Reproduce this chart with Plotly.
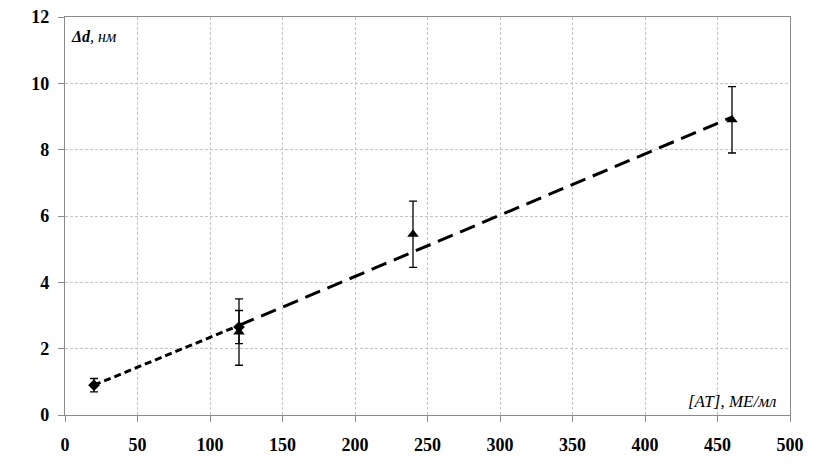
import plotly.graph_objects as go

# Data
diam_x = [20, 120]
diam_y = [0.9, 2.65]
diam_err = [0.2, 0.5]

tri_x = [120, 240, 460]
tri_y = [2.5, 5.45, 8.9]
tri_err = [1.0, 1.0, 1.0]

fit1_x = [20, 120]
fit1_y = [0.9, 2.7]

fit2_x = [120, 460]
fit2_y = [2.7, 8.98]

x_ticks = [0, 50, 100, 150, 200, 250, 300, 350, 400, 450, 500]
y_ticks = [0, 2, 4, 6, 8, 10, 12]

fig = go.Figure()

fig.add_trace(go.Scatter(x=fit1_x, y=fit1_y, mode="lines",
                         line=dict(color="black", width=3, dash="7px,4px"),
                         showlegend=False, hoverinfo="skip"))
fig.add_trace(go.Scatter(x=fit2_x, y=fit2_y, mode="lines",
                         line=dict(color="black", width=3, dash="16px,8px"),
                         showlegend=False, hoverinfo="skip"))

fig.add_trace(go.Scatter(x=diam_x, y=diam_y, mode="markers",
                         marker=dict(symbol="diamond", size=9, color="black"),
                         error_y=dict(type="data", array=diam_err, color="black",
                                      thickness=1.3, width=4),
                         showlegend=False))
fig.add_trace(go.Scatter(x=tri_x, y=tri_y, mode="markers",
                         marker=dict(symbol="triangle-up", size=10, color="black"),
                         error_y=dict(type="data", array=tri_err, color="black",
                                      thickness=1.3, width=4),
                         showlegend=False))

axis_common = dict(
    showline=True, linecolor="#8a8a8a", linewidth=1.2, mirror=True,
    ticks="outside", ticklen=6, tickcolor="#8a8a8a", tickwidth=1,
    showgrid=True, gridcolor="#c4c4c4", griddash="3px,2px", gridwidth=1,
    zeroline=False, automargin=False, ticklabeloverflow="allow",
    tickfont=dict(family="Liberation Serif", size=18, color="black", weight="bold"),
)

fig.update_xaxes(range=[0, 500], tickvals=x_ticks, ticklabelstandoff=7, **axis_common)
fig.update_yaxes(range=[0, 12], tickvals=y_ticks, ticklabelstandoff=5, **axis_common)

fig.add_annotation(x=0.006, y=0.952, xref="paper", yref="paper",
                   text="<b><i>Δd</i></b><i>, нм</i>", showarrow=False,
                   xanchor="left", yanchor="middle",
                   font=dict(family="Liberation Serif", size=16, color="black"))
fig.add_annotation(x=0.983, y=0.033, xref="paper", yref="paper",
                   text="<i>[AT], МЕ/мл</i>", showarrow=False,
                   xanchor="right", yanchor="middle",
                   font=dict(family="Liberation Serif", size=17, color="black"))

fig.update_layout(
    width=823, height=476,
    margin=dict(l=57, r=41, t=9, b=69),
    paper_bgcolor="white", plot_bgcolor="white",
    showlegend=False,
)

fig.write_html("out.html")
